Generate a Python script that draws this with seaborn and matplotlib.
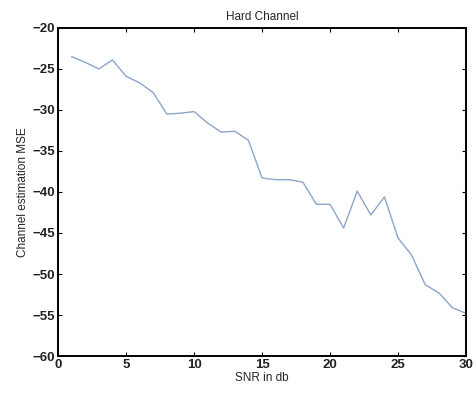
import numpy as np
import pandas as pd
import matplotlib
matplotlib.use("Agg")
import matplotlib.pyplot as plt
import seaborn as sns

snr = list(range(1, 31))
mse = [-23.5, -24.2, -25.0, -23.9, -25.9, -26.7, -27.9, -30.5, -30.4, -30.2,
       -31.6, -32.7, -32.6, -33.7, -38.3, -38.5, -38.5, -38.8, -41.5, -41.5,
       -44.4, -39.9, -42.8, -40.6, -45.6, -47.7, -51.3, -52.3, -54.1, -54.8]

df = pd.DataFrame({"snr": snr, "mse": mse})

sns.set_style("ticks")
plt.rcParams['font.family'] = ['Liberation Sans', 'DejaVu Sans']

fig = plt.figure(figsize=(4.76, 3.93), dpi=100)
ax = fig.add_axes([0.122, 0.094, 0.857, 0.835])
sns.lineplot(data=df, x="snr", y="mse", ax=ax, color="#8ca5c8", linewidth=1.0)

ax.set_xlim(0, 30)
ax.set_ylim(-60, -20)
ax.set_xticks(range(0, 31, 5))
ax.set_yticks(range(-60, -19, 5))
ax.tick_params(direction="in", length=3, width=0.8, top=True, right=True,
               labelsize=9.5, pad=2, colors="black")
for lab in ax.get_xticklabels() + ax.get_yticklabels():
    lab.set_fontweight("bold")
    lab.set_color("#222222")
for s in ax.spines.values():
    s.set_linewidth(1.4)
    s.set_color("black")

ax.set_title("Hard Channel", fontsize=8.5, pad=6)
ax.set_xlabel("SNR in db", fontsize=8.5, labelpad=1)
ax.set_ylabel("Channel estimation MSE", fontsize=8.5, labelpad=3)

fig.savefig("out.png", dpi=100)
